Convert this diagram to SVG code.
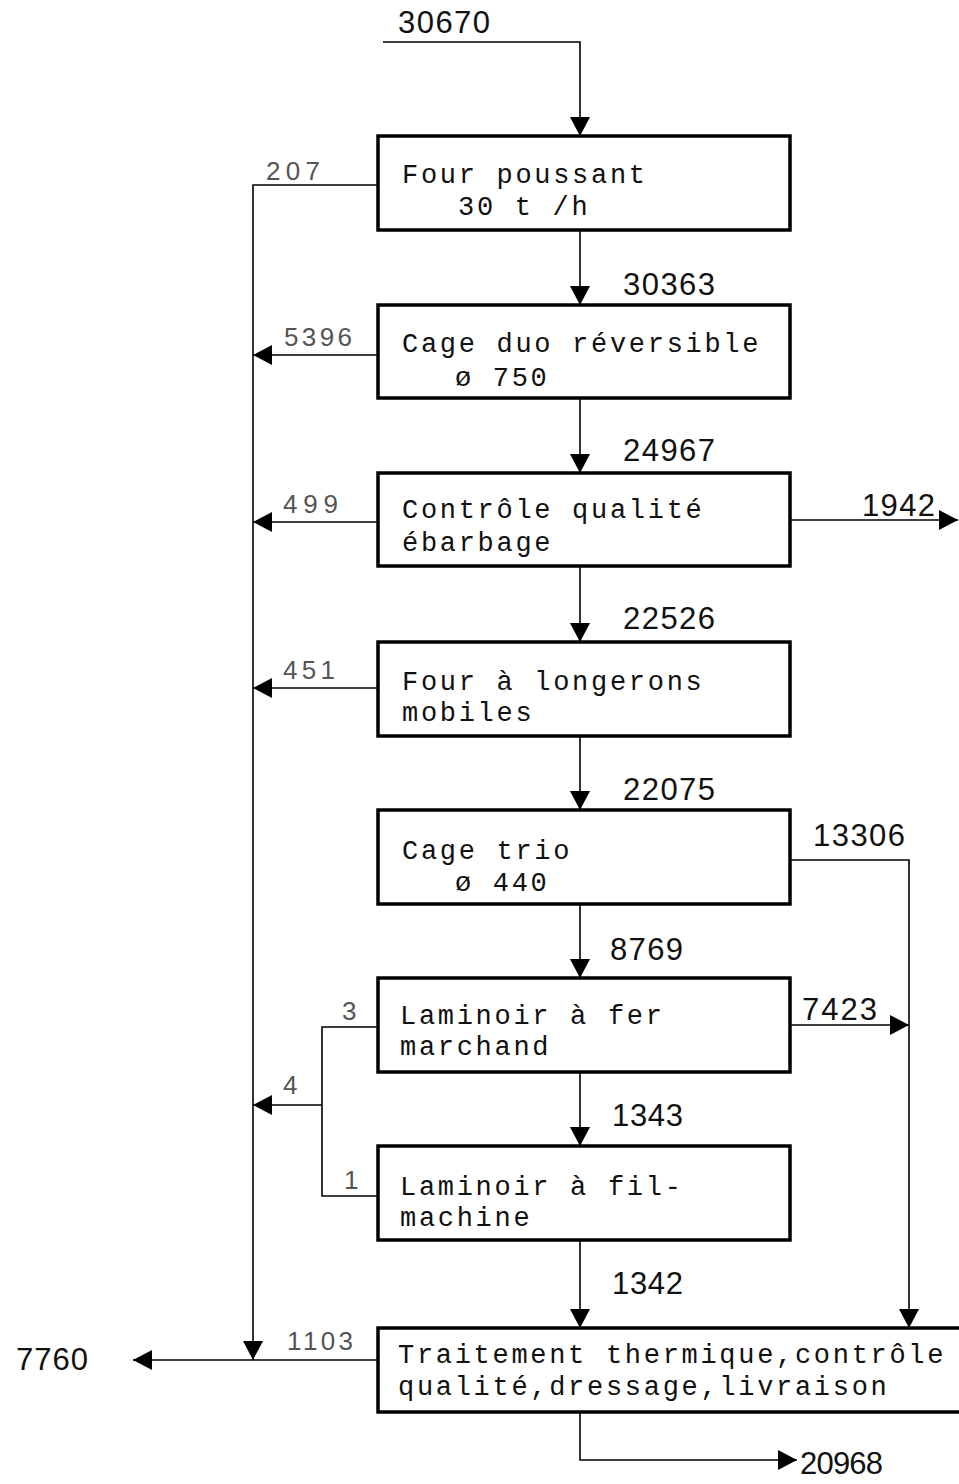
<svg xmlns="http://www.w3.org/2000/svg" width="959" height="1484" viewBox="0 0 959 1484">
<style>
.box{fill:#fff;stroke:#000;stroke-width:3.5}
.ln{fill:none;stroke:#000;stroke-width:1.6}
.bt{font-family:"Liberation Mono","DejaVu Sans Mono",monospace;font-size:27px;letter-spacing:2.7px;fill:#111}
.num{font-family:"Liberation Sans","DejaVu Sans",sans-serif;font-size:31px;fill:#111}
.sm{font-family:"Liberation Sans","DejaVu Sans",sans-serif;font-size:26px;fill:#555}
</style>
<defs>
<polygon id="ad" points="-10,-19 10,-19 0,0" fill="#000"/>
<polygon id="al" points="0,0 19,-10 19,10" fill="#000"/>
<polygon id="ar" points="0,0 -19,-10 -19,10" fill="#000"/>
</defs>
<rect width="959" height="1484" fill="#fff"/>
<g id="connectors">
<path class="ln" d="M383,42 H580 V136"/>
<use href="#ad" x="580" y="136"/>
<path class="ln" d="M580,230 V305"/><use href="#ad" x="580" y="305"/>
<path class="ln" d="M580,398 V473"/><use href="#ad" x="580" y="473"/>
<path class="ln" d="M580,566 V642"/><use href="#ad" x="580" y="642"/>
<path class="ln" d="M580,736 V810"/><use href="#ad" x="580" y="810"/>
<path class="ln" d="M580,904 V978"/><use href="#ad" x="580" y="978"/>
<path class="ln" d="M580,1072 V1146"/><use href="#ad" x="580" y="1146"/>
<path class="ln" d="M580,1240 V1328"/><use href="#ad" x="580" y="1328"/>
<path class="ln" d="M378,185 H253 V1360"/><use href="#ad" x="253" y="1360"/>
<path class="ln" d="M378,355 H253"/><use href="#al" x="253" y="355"/>
<path class="ln" d="M378,522 H253"/><use href="#al" x="253" y="522"/>
<path class="ln" d="M378,688 H253"/><use href="#al" x="253" y="688"/>
<path class="ln" d="M790,520 H958"/><use href="#ar" x="958" y="520"/>
<path class="ln" d="M790,860 H909 V1328"/><use href="#ad" x="909" y="1328"/>
<path class="ln" d="M790,1025 H909"/><use href="#ar" x="909" y="1025"/>
<path class="ln" d="M378,1027 H322 V1196 H378"/>
<path class="ln" d="M322,1105 H253"/><use href="#al" x="253" y="1105"/>
<path class="ln" d="M378,1360 H133"/><use href="#al" x="133" y="1360"/>
<path class="ln" d="M580,1412 V1460 H797"/><use href="#ar" x="797" y="1460"/>
</g>
<g id="labels">
<text class="num" x="398" y="33" textLength="92">30670</text>
<text class="sm" x="266" y="180" textLength="54">207</text>
<text class="num" x="623" y="295" textLength="92">30363</text>
<text class="sm" x="284" y="346" textLength="68">5396</text>
<text class="num" x="623" y="461" textLength="92">24967</text>
<text class="sm" x="283" y="513" textLength="55">499</text>
<text class="num" x="862" y="516" textLength="73">1942</text>
<text class="num" x="623" y="629" textLength="92">22526</text>
<text class="sm" x="283" y="679" textLength="52">451</text>
<text class="num" x="623" y="800" textLength="92">22075</text>
<text class="num" x="813" y="846" textLength="92">13306</text>
<text class="num" x="610" y="960" textLength="73">8769</text>
<text class="num" x="802" y="1020" textLength="75">7423</text>
<text class="sm" x="342" y="1020">3</text>
<text class="sm" x="283" y="1094" font-size="22">4</text>
<text class="sm" x="344" y="1189">1</text>
<text class="num" x="612" y="1126" textLength="71">1343</text>
<text class="num" x="612" y="1294" textLength="71">1342</text>
<text class="sm" x="287" y="1350" textLength="66">1103</text>
<text class="num" x="16" y="1370" textLength="72">7760</text>
<text class="num" x="800" y="1474" font-size="29" textLength="83">20968</text>
</g>
<g id="n1"><rect class="box" x="378" y="136" width="412" height="94"/>
<text class="bt" x="402" y="183">Four poussant</text><text class="bt" x="458" y="215">30 t /h</text></g>
<g id="n2"><rect class="box" x="378" y="305" width="412" height="93"/>
<text class="bt" x="402" y="352">Cage duo réversible</text><text class="bt" x="455" y="386">ø 750</text></g>
<g id="n3"><rect class="box" x="378" y="473" width="412" height="93"/>
<text class="bt" x="402" y="518">Contrôle qualité</text><text class="bt" x="402" y="551">ébarbage</text></g>
<g id="n4"><rect class="box" x="378" y="642" width="412" height="94"/>
<text class="bt" x="402" y="690">Four à longerons</text><text class="bt" x="402" y="721">mobiles</text></g>
<g id="n5"><rect class="box" x="378" y="810" width="412" height="94"/>
<text class="bt" x="402" y="859">Cage trio</text><text class="bt" x="455" y="891">ø 440</text></g>
<g id="n6"><rect class="box" x="378" y="978" width="412" height="94"/>
<text class="bt" x="400" y="1024">Laminoir à fer</text><text class="bt" x="400" y="1055">marchand</text></g>
<g id="n7"><rect class="box" x="378" y="1146" width="412" height="94"/>
<text class="bt" x="400" y="1195">Laminoir à fil-</text><text class="bt" x="400" y="1226">machine</text></g>
<g id="n8"><rect class="box" x="378" y="1328" width="600" height="84"/>
<text class="bt" x="398" y="1363">Traitement thermique,contrôle</text><text class="bt" x="398" y="1395">qualité,dressage,livraison</text></g>
</svg>
